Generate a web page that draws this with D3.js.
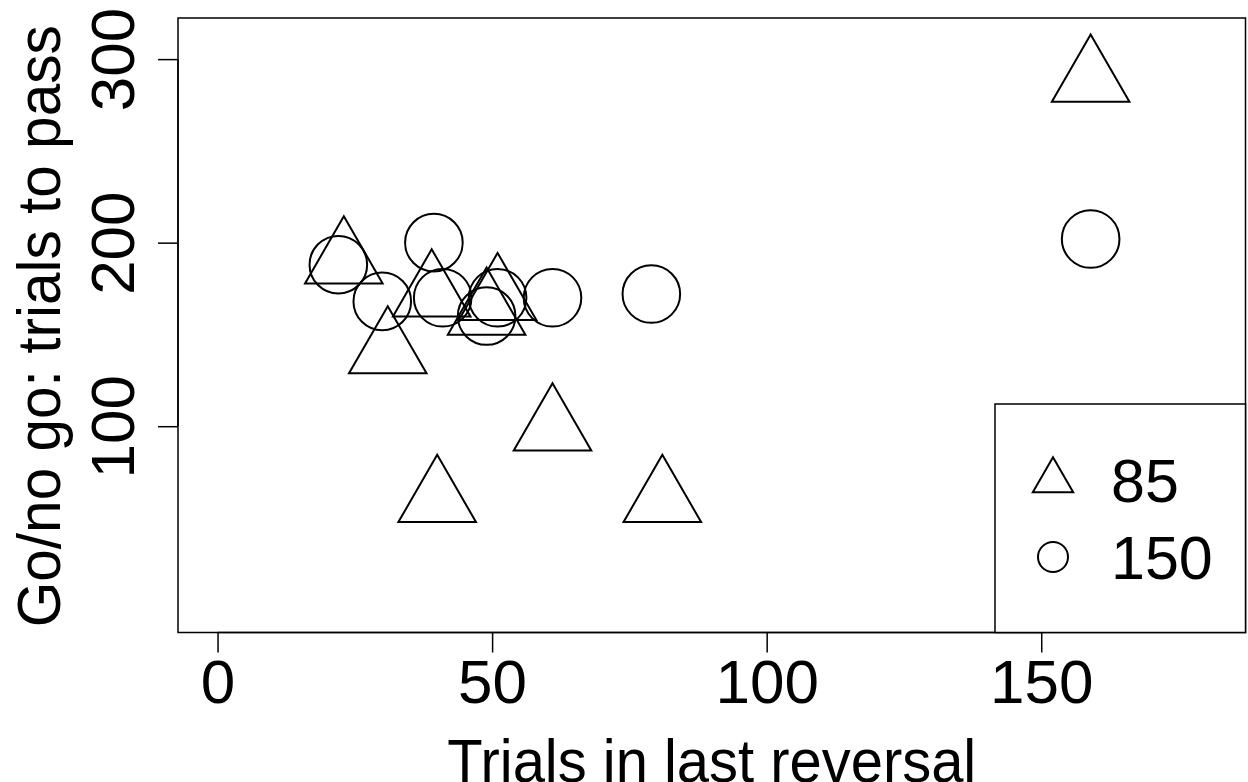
<!DOCTYPE html>
<html>
<head>
<meta charset="utf-8">
<script src="https://cdn.jsdelivr.net/npm/d3@7"></script>
<style>
  html, body { margin: 0; padding: 0; background: #ffffff; }
  svg { display: block; }
  text { font-family: "Liberation Sans", Arial, Helvetica, sans-serif; fill: #000; }
</style>
</head>
<body>
<svg id="chart" width="1248" height="782"></svg>
<script>
// ---- data ----
const groups = ["85", "150"];
const triX = [23, 31, 39, 51, 49, 40, 61, 81, 159];
const triY = [190, 141, 172, 170, 162, 60, 99, 60, 289];
const circX = [22, 30, 39.4, 41, 49, 51, 61, 79, 159];
const circY = [188, 168, 200, 170, 160, 170, 170, 172, 202];
const xTicks = [0, 50, 100, 150];
const yTicks = [100, 200, 300];
const xLabel = "Trials in last reversal";
const yLabel = "Go/no go: trials to pass";

// ---- layout ----
const W = 1248, H = 782;
const plot = { left: 178, right: 1245.5, top: 18, bottom: 632.5 };
const svg = d3.select("#chart");
svg.append("rect").attr("width", W).attr("height", H).attr("fill", "#fff");

const x = d3.scaleLinear().domain([-7.2, 187.2]).range([plot.left, plot.right]);
const y = d3.scaleLinear().domain([-12.4, 322.4]).range([plot.bottom, plot.top]);

const symR = 28.8;           // circle radius
const triR = symR * 1.555;   // R's pch=2 triangle size relative to circle
const sw = 2;

function triPath(r) {
  const xc = r * 0.866;
  return `M0,${-r}L${xc},${r/2}L${-xc},${r/2}Z`;
}

// plot box
svg.append("rect")
  .attr("x", plot.left).attr("y", plot.top)
  .attr("width", plot.right - plot.left).attr("height", plot.bottom - plot.top)
  .attr("fill", "none").attr("stroke", "#000").attr("stroke-width", 1.5);

// axes
const fontSize = 62;
const xAxis = d3.axisBottom(x).tickValues(xTicks).tickSize(20).tickSizeOuter(0).tickPadding(0).tickFormat(d3.format("d"));
const gx = svg.append("g").attr("transform", `translate(0,${plot.bottom})`).call(xAxis);
gx.select(".domain").attr("stroke", "#000").attr("stroke-width", 1.5)
  .attr("d", `M${x(xTicks[0])},0H${x(xTicks[xTicks.length-1])}`);
gx.selectAll(".tick line").attr("stroke", "#000").attr("stroke-width", 1.5);
gx.selectAll(".tick text").attr("y", 703 - plot.bottom).attr("dy", null)
  .style("font-size", fontSize + "px").style("font-family", "Liberation Sans, Arial, sans-serif").attr("fill", "#000");

const yAxis = d3.axisLeft(y).tickValues(yTicks).tickSize(20).tickSizeOuter(0).tickFormat(d3.format("d"));
const gy = svg.append("g").attr("transform", `translate(${plot.left},0)`).call(yAxis);
gy.select(".domain").attr("stroke", "#000").attr("stroke-width", 1.5)
  .attr("d", `M0,${y(yTicks[0])}V${y(yTicks[yTicks.length-1])}`);
gy.selectAll(".tick line").attr("stroke", "#000").attr("stroke-width", 1.5);
gy.selectAll(".tick text")
  .attr("x", null).attr("dy", null)
  .attr("text-anchor", "middle")
  .attr("transform", `translate(${133.5 - plot.left},0) rotate(-90)`)
  .style("font-size", fontSize + "px").style("font-family", "Liberation Sans, Arial, sans-serif").attr("fill", "#000");

// axis titles
svg.append("text")
  .attr("x", (plot.left + plot.right) / 2).attr("y", 781.5)
  .attr("text-anchor", "middle").style("font-size", fontSize + "px")
  .attr("textLength", 529).attr("lengthAdjust", "spacingAndGlyphs")
  .text(xLabel);
svg.append("text")
  .attr("transform", `translate(60,${(plot.top + plot.bottom) / 2 + 1}) rotate(-90)`)
  .attr("text-anchor", "middle").style("font-size", fontSize + "px")
  .attr("textLength", 602).attr("lengthAdjust", "spacingAndGlyphs")
  .text(yLabel);

// points
const triData = triX.map((v, i) => ({ x: v, y: triY[i] }));
const circData = circX.map((v, i) => ({ x: v, y: circY[i] }));

svg.append("g").selectAll("path").data(triData).join("path")
  .attr("d", triPath(triR))
  .attr("transform", d => `translate(${x(d.x)},${y(d.y)})`)
  .attr("fill", "none").attr("stroke", "#000").attr("stroke-width", sw);

svg.append("g").selectAll("circle").data(circData).join("circle")
  .attr("cx", d => x(d.x)).attr("cy", d => y(d.y)).attr("r", symR)
  .attr("fill", "none").attr("stroke", "#000").attr("stroke-width", sw);

// legend (bottom right)
const leg = { left: 995, top: 404 };
svg.append("rect")
  .attr("x", leg.left).attr("y", leg.top)
  .attr("width", plot.right - leg.left).attr("height", plot.bottom - leg.top)
  .attr("fill", "#fff").attr("stroke", "#000").attr("stroke-width", 1.5);

const legR = 15;
const legRows = [480.5, 557];
const legFont = 61;
groups.forEach((g, i) => {
  const cy = legRows[i];
  if (i === 0) {
    svg.append("path").attr("d", triPath(legR * 1.555))
      .attr("transform", `translate(1053,${cy})`)
      .attr("fill", "none").attr("stroke", "#000").attr("stroke-width", sw);
  } else {
    svg.append("circle").attr("cx", 1053).attr("cy", cy).attr("r", legR)
      .attr("fill", "none").attr("stroke", "#000").attr("stroke-width", sw);
  }
  svg.append("text").attr("x", 1111).attr("y", cy + 21.7)
    .style("font-size", legFont + "px").text(g);
});
</script>
</body>
</html>
